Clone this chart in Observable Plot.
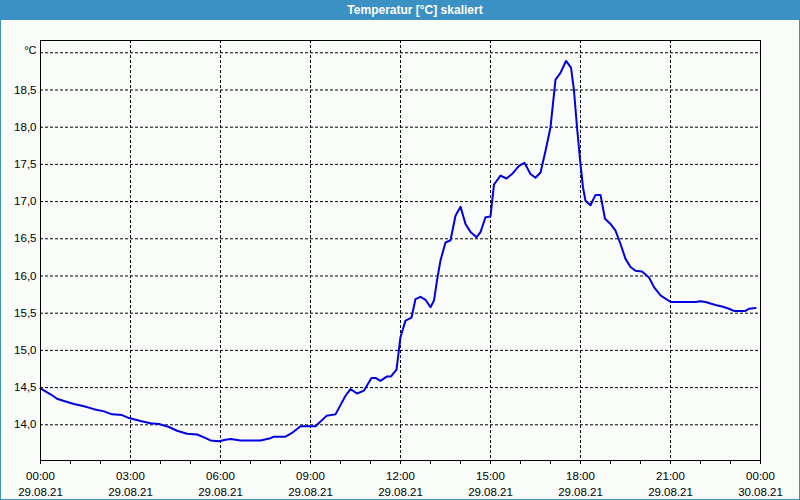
<!DOCTYPE html>
<html>
<head>
<meta charset="utf-8">
<script src="https://cdn.jsdelivr.net/npm/d3@7"></script>
<script src="https://cdn.jsdelivr.net/npm/@observablehq/plot@0.6"></script>
<style>
  html, body { margin: 0; padding: 0; background: #f9fcf9; }
  #wrap { position: relative; width: 800px; height: 500px; background: #f9fcf9; overflow: hidden; }
  #title { position: absolute; left: 0; top: 0; width: 800px; height: 20px; background: #3c91c4;
           color: #fff; font: bold 12px "Liberation Sans", Arial, sans-serif; line-height: 20px; }
  #title span { position: absolute; left: 415px; transform: translateX(-50%); white-space: nowrap; }
  #chart { position: absolute; left: 0; top: 20px; }
  #border { position: absolute; left: 0; top: 0; width: 798px; height: 499px; border: 1px solid #3c91c4; border-top: 0; pointer-events: none; }
</style>
</head>
<body>
<div id="wrap">
  <div id="title"><span>Temperatur [°C] skaliert</span></div>
  <div id="chart"></div>
  <div id="border"></div>
</div>
<script>
// Minutes after 29.08.21 00:00
const minutes = [0,20,33,47,67,87,107,127,143,163,177,200,220,237,257,273,293,313,327,340,357,370,380,
  400,413,440,460,467,490,503,520,550,572,590,610,620,633,647,662,670,680,693,701,712,720,730,
  742,750,760,770,780,787,793,800,810,820,830,840,850,860,872,880,890,900,907,920,932,943,957,968,980,990,1000,1010,1020,1030,1040,1051,1061,1067,1073,1080,1085,1090,
  1100,1110,1120,1129,1140,1150,1160,1170,1180,1190,1203,1217,1227,1240,1260,1310,1320,1330,1350,1363,1377,1387,1410,1417,1430];
// Temperature [°C]
const temps = [14.49,14.41,14.35,14.32,14.28,14.25,14.21,14.18,14.14,14.13,14.09,14.05,14.02,14.01,13.97,13.92,13.88,13.87,13.83,13.79,13.78,13.80,13.81,
  13.79,13.79,13.79,13.82,13.84,13.84,13.89,13.98,13.98,14.12,14.14,14.39,14.48,14.42,14.46,14.63,14.63,14.59,14.65,14.65,14.74,15.18,15.40,
  15.44,15.69,15.72,15.68,15.58,15.67,15.94,16.21,16.45,16.48,16.81,16.93,16.70,16.59,16.52,16.59,16.79,16.80,17.23,17.35,17.31,17.37,17.48,17.52,17.37,17.32,17.39,17.68,18.00,18.64,18.73,18.89,18.80,18.49,18.00,17.50,17.19,17.01,
  16.95,17.09,17.09,16.77,16.70,16.61,16.43,16.23,16.12,16.07,16.06,15.98,15.85,15.74,15.65,15.65,15.66,15.65,15.61,15.59,15.56,15.53,15.53,15.56,15.57];

const xTickHours = [0,3,6,9,12,15,18,21,24];
const xTickTimes = ["00:00","03:00","06:00","09:00","12:00","15:00","18:00","21:00","00:00"];
const xTickDates = ["29.08.21","29.08.21","29.08.21","29.08.21","29.08.21","29.08.21","29.08.21","29.08.21","30.08.21"];
const yTicks = [14.0,14.5,15.0,15.5,16.0,16.5,17.0,17.5,18.0,18.5];
const yGrid = [14.0,14.5,15.0,15.5,16.0,16.5,17.0,17.5,18.0,18.5,19.0];
const unitLabel = "°C";

const start = new Date(2021, 7, 29, 0, 0);
const data = minutes.map((m, i) => ({t: d3.timeMinute.offset(start, m), v: temps[i]}));
const tickDates = xTickHours.map(h => d3.timeHour.offset(start, h));
const hourly = d3.range(0, 25).map(h => d3.timeHour.offset(start, h));
const xLabels = xTickHours.map((h, i) => ({t: tickDates[i], label: xTickTimes[i] + "\n" + xTickDates[i]}));

const dash = {stroke: "#000", strokeOpacity: 1, strokeDasharray: "3,2", strokeWidth: 1};

const chart = Plot.plot({
  width: 800,
  height: 480,
  marginTop: 20,
  marginBottom: 40,
  marginLeft: 40,
  marginRight: 40,
  style: {background: "transparent", fontFamily: "'Liberation Sans', Arial, sans-serif", fontSize: "11px", color: "#000"},
  x: {type: "time", domain: [tickDates[0], tickDates[8]], label: null},
  y: {domain: [13.52, 19.165], label: null},
  marks: [
    Plot.gridY(yGrid, dash),
    Plot.gridX(tickDates.slice(1, -1), dash),
    Plot.line(data, {x: "t", y: "v", stroke: "#0000e0", strokeWidth: 2, strokeLinejoin: "round"}),
    Plot.frame({stroke: "#000", strokeWidth: 1}),
    Plot.axisX({ticks: hourly, tickSize: 4, tickFormat: () => "", stroke: "#000"}),
    Plot.text(xLabels, {x: "t", text: "label", frameAnchor: "bottom", dy: 22.5, lineAnchor: "middle", lineHeight: 1.36, fontSize: 11.5, fill: "#000"}),
    Plot.axisY({ticks: yTicks, tickSize: 0, tickPadding: 4, tickFormat: d => d.toFixed(1).replace(".", ","), fontSize: 11.5, fill: "#000"}),
    Plot.text([unitLabel], {text: d => d, frameAnchor: "top-left", dx: -4, dy: 6, textAnchor: "end", fontSize: 11, fill: "#000"})
  ]
});
document.getElementById("chart").appendChild(chart);
</script>
</body>
</html>
